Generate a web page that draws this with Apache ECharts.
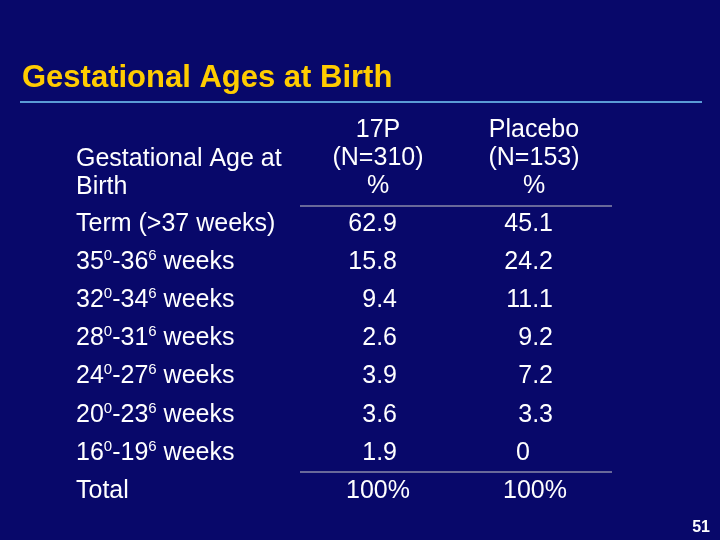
<!DOCTYPE html>
<html><head><meta charset="utf-8">
<script src="https://cdn.jsdelivr.net/npm/echarts@6/dist/echarts.min.js"></script>
<style>html,body{margin:0;padding:0;background:#08086a}#c{width:720px;height:540px}</style>
</head><body><div id="c"></div>
<script>
var title = 'Gestational Ages at Birth';
var headerRows = [['', '17P', 'Placebo'], ['Gestational Age at', '(N=310)', '(N=153)'], ['Birth', '%', '%']];
var categories = ['Term (>37 weeks)', '35{s|0}-36{s|6} weeks', '32{s|0}-34{s|6} weeks', '28{s|0}-31{s|6} weeks', '24{s|0}-27{s|6} weeks', '20{s|0}-23{s|6} weeks', '16{s|0}-19{s|6} weeks', 'Total'];
var p17 = ['62.9', '15.8', '9.4', '2.6', '3.9', '3.6', '1.9', '100%'];
var placebo = ['45.1', '24.2', '11.1', '9.2', '7.2', '3.3', '0', '100%'];
var pageNum = '51';

var F = 'Liberation Sans, Arial, sans-serif';
var BF = '25px '+F;
var g = [];
g.push({type:'text', left:22, top:63, style:{text:title, fill:'#ffcc00', font:'bold 31px '+F}});
g.push({type:'line', shape:{x1:20,y1:102,x2:702,y2:102}, style:{stroke:'#5a9ad6', lineWidth:2}});
var hy = [130, 158, 186];
hy.forEach(function(y, i){
  var r = headerRows[i];
  if (r[0]) g.push({type:'text', x:76, y:y+1, style:{text:r[0], fill:'#fff', font:BF, textVerticalAlign:'middle'}});
  g.push({type:'text', x:378, y:y, style:{text:r[1], fill:'#fff', font:BF, textAlign:'center', textVerticalAlign:'middle'}});
  g.push({type:'text', x:534, y:y, style:{text:r[2], fill:'#fff', font:BF, textAlign:'center', textVerticalAlign:'middle'}});
});
g.push({type:'line', shape:{x1:300,y1:206,x2:612,y2:206}, style:{stroke:'#c8c8c8', lineWidth:1}});
g.push({type:'line', shape:{x1:300,y1:472,x2:612,y2:472}, style:{stroke:'#c8c8c8', lineWidth:1}});
var rowY = [224, 262, 300, 338, 376, 415, 453, 491];
function valEl(v, y, left, right){
  var st = {text:v, fill:'#fff', font:BF, textVerticalAlign:'middle'};
  var x;
  if (v.indexOf('%')>=0){ st.textAlign='left'; x=left; }
  else if (v.indexOf('.')>=0){ st.textAlign='right'; x=right; }
  else { st.textAlign='right'; x=right-23; }
  return {type:'text', x:x, y:y, style:st};
}
categories.forEach(function(c, i){
  g.push({type:'text', x:76, y:rowY[i], style:{rich:{s:{fontSize:15, verticalAlign:'top', padding:[0,0,13,0], fill:'#fff', fontFamily:F}}, text:c, fill:'#fff', font:BF, textVerticalAlign:'middle'}});
  g.push(valEl(p17[i], rowY[i], 346, 397));
  g.push(valEl(placebo[i], rowY[i], 503, 553));
});
g.push({type:'text', x:710, y:528, style:{text:pageNum, fill:'#fff', font:'bold 16px '+F, textAlign:'right', textVerticalAlign:'middle'}});
var chart = echarts.init(document.getElementById('c'));
chart.setOption({backgroundColor:'#08086a', graphic:g});
</script></body></html>
